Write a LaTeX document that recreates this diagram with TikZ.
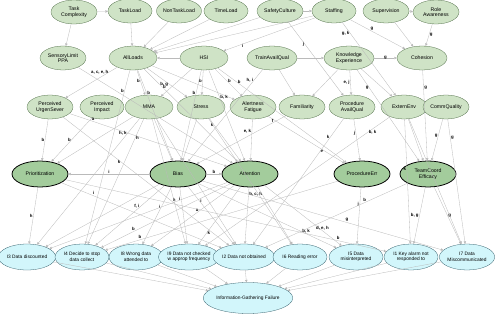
\documentclass[tikz,border=0pt]{standalone}
\usepackage{fontspec}
\setmainfont{Liberation Sans}
\usetikzlibrary{shapes.geometric,arrows.meta}
\definecolor{nodegreen}{HTML}{CFE3C6}
\definecolor{nodeedge}{HTML}{4D6B45}
\definecolor{keygreen}{HTML}{A3CC9C}
\definecolor{errcyan}{HTML}{D2F6FB}
\definecolor{erredge}{HTML}{2E5A66}
\definecolor{linkgray}{HTML}{BABABA}
\begin{document}
\begin{tikzpicture}[x=0.05cm,y=-0.05cm,
    factor/.style={ellipse,draw=nodeedge,fill=nodegreen,thin,minimum width=2.3cm,minimum height=1.2cm,inner sep=0pt,align=center,font=\fontsize{7.4}{8}\selectfont},
    keyfactor/.style={factor,fill=keygreen,draw=black,line width=1.1pt,minimum width=2.8cm,minimum height=1.3cm},
    errmode/.style={factor,fill=errcyan,draw=erredge,minimum width=2.7cm,minimum height=1.3cm,font=\fontsize{6.9}{7.8}\selectfont},
    link/.style={draw=linkgray,line width=0.45pt,-{Triangle[length=3.5pt,width=3.5pt]}},
    lbl/.style={font=\fontsize{6.2}{6.5}\selectfont\bfseries,inner sep=1pt}]
    \useasboundingbox (0,0) rectangle (496,316);
    % performance shaping factors
    \node [factor] (taskcomp) at (74,12) {Task\\Complexity};
    \node [factor,minimum width=2.2cm] (taskload) at (130,11) {TaskLoad};
    \node [factor,minimum width=2.2cm] (nontask) at (179,11) {NonTaskLoad};
    \node [factor,minimum width=2.2cm] (timeload) at (226,11) {TimeLoad};
    \node [factor] (safety) at (280,11) {SafetyCulture};
    \node [factor,minimum width=2.2cm] (staffing) at (334,11) {Staffing};
    \node [factor] (superv) at (386,11) {Supervision};
    \node [factor] (roleaw) at (436,12) {Role\\Awareness};
    \node [factor] (sensory) at (63,58) {SensoryLimit\\PPA};
    \node [factor,minimum width=2.4cm] (allloads) at (133,58) {AllLoads};
    \node [factor,minimum width=2.4cm] (hsi) at (204,58) {HSI};
    \node [factor,minimum width=2.5cm] (trainavail) at (272,58) {TrainAvailQual};
    \node [factor,minimum width=2.5cm] (knowexp) at (349,58) {Knowledge\\Experience};
    \node [factor,minimum width=2.5cm] (cohesion) at (422,58) {Cohesion};
    \node [factor] (percurg) at (50,107) {Perceived\\UrgenSever};
    \node [factor,minimum width=2.2cm] (percimp) at (102,107) {Perceived\\Impact};
    \node [factor,minimum width=2.4cm] (mma) at (149,107) {MMA};
    \node [factor,minimum width=2.4cm] (stress) at (201,107) {Stress};
    \node [factor] (alert) at (253,107) {Alertness\\Fatigue};
    \node [factor] (familiar) at (302,107) {Familiarity};
    \node [factor] (procavail) at (352,107) {Procedure\\AvailQual};
    \node [factor] (externenv) at (404,107) {ExternEnv};
    \node [factor] (commqual) at (446,107) {CommQuality};
    % key factors
    \node [keyfactor] (prior) at (40,174) {Prioritization};
    \node [keyfactor] (bias) at (178,174) {Bias};
    \node [keyfactor] (attention) at (250,174) {Attention};
    \node [keyfactor] (procerr) at (362,174) {ProcedureErr};
    \node [keyfactor] (teamcoord) at (428,174) {TeamCoord\\Efficacy};
    % failure modes
    \node [errmode] (i3) at (27,257) {I3 Data discounted};
    \node [errmode] (i4) at (82,257) {I4 Decide to stop\\data collect};
    \node [errmode] (i8) at (136,257) {I8 Wrong data\\attended to};
    \node [errmode] (i9) at (189,257) {I9 Data not checked\\w approp frequency};
    \node [errmode] (i2) at (244,257) {I2 Data not obtained};
    \node [errmode] (i6) at (300,257) {I6 Reading error};
    \node [errmode] (i5) at (356,257) {I5 Data\\misinterpreted};
    \node [errmode] (i1) at (411,257) {I1 Key alarm not\\responded to};
    \node [errmode] (i7) at (467,257) {I7 Data\\Miscommunicated};
    \node [errmode,minimum width=4.4cm,minimum height=1.55cm] (igf) at (248,298) {Information-Gathering Failure};
    % top rows
    \draw [link] (taskcomp) -- (taskload);
    \draw [link] (taskcomp) -- (sensory);
    \draw [link] (taskload) -- (allloads);
    \draw [link] (nontask) -- (allloads);
    \draw [link] (timeload) -- (allloads);
    \draw [link] (safety) -- (allloads);
    \draw [link] (staffing) -- (allloads);
    \draw [link] (staffing) -- node [lbl,pos=0.78,below left] {i} (hsi);
    \draw [link] (safety) -- (staffing);
    \draw [link] (superv) -- (roleaw);
    \draw [link] (superv) -- (cohesion);
    \draw [link] (roleaw) -- node [lbl,right] {g} (cohesion);
    \draw [link] (staffing) -- node [lbl,pos=0.4,above] {g} (cohesion);
    \draw [link] (staffing) -- node [lbl,pos=0.15,left] {g, k} (externenv);
    \draw [link] (safety) -- node [lbl,pos=0.3,left] {j} (procavail);
    \draw [link] (hsi) -- (allloads);
    \draw [link] (trainavail) -- (knowexp);
    \draw [link] (knowexp) -- node [lbl] {g} (cohesion);
    \draw [link] (trainavail) -- (familiar);
    \draw [link] (trainavail) -- node [lbl,pos=0.12,left] {h, i} (bias);
    \draw [link] (knowexp) -- (familiar);
    \draw [link] (knowexp) -- node [lbl,left] {e, j} (procavail);
    \draw [link] (knowexp) -- node [lbl,pos=0.2,left] {g} (teamcoord);
    \draw [link] (knowexp) -- (externenv);
    \draw [link] (cohesion) -- node [lbl,pos=0.2,right] {g} (teamcoord);
    % loads and interface
    \draw [link] (allloads) -- (percurg);
    \draw [link] (allloads) -- node [lbl,pos=0.12,left] {b} (i4);
    \draw [link] (allloads) -- node [lbl,pos=0.45,left] {b} (mma);
    \draw [link] (allloads) -- node [lbl,pos=0.25,right] {b} (bias);
    \draw [link] (allloads) -- node [lbl,pos=0.55,left] {b, g} (stress);
    \draw [link] (allloads) -- node [lbl,pos=0.22,above] {b} (attention);
    \draw [link] (allloads) -- (alert);
    \draw [link] (hsi) -- (mma);
    \draw [link] (hsi) -- node [lbl,pos=0.45,left] {b} (stress);
    \draw [link] (hsi) -- node [lbl,pos=0.25,left] {b} (bias);
    \draw [link] (hsi) -- node [lbl,pos=0.3,right] {b, k} (attention);
    \draw [link] (hsi) -- node [lbl,pos=0.45,right] {b} (alert);
    \draw [link] (hsi) -- node [lbl,pos=0.15,right] {b} (procerr);
    \draw [link] (sensory) -- node [lbl,pos=0.08,above right] {a, c, e, h} (attention);
    % perceptions and states
    \draw [link] (percurg) -- node [lbl,left] {b} (prior);
    \draw [link] (percimp) -- node [lbl,left] {b} (prior);
    \draw [link] (percurg) -- node [lbl,pos=0.15,above] {a} (attention);
    \draw [link] (percurg) -- node [lbl,pos=0.35,left] {k} (i2);
    \draw [link] (mma) -- node [lbl,pos=0.12,left] {h, k} (i3);
    \draw [link] (mma) -- node [lbl,pos=0.15,right] {h} (i4);
    \draw [link] (mma) -- (prior);
    \draw [link] (mma) -- (bias);
    \draw [link] (stress) -- (bias);
    \draw [link] (stress) -- node [lbl,pos=0.15,left] {k} (attention);
    \draw [link] (alert) -- node [lbl,pos=0.3,left] {e, k} (attention);
    \draw [link] (alert) -- node [lbl,pos=0.7,below] {e} (procerr);
    \draw [link] (familiar) -- node [lbl,pos=0.15,above] {f} (bias);
    \draw [link] (procavail) -- node [lbl,pos=0.35,left] {j} (procerr);
    \draw [link] (procavail) -- node [lbl,pos=0.15,left] {k} (i2);
    \draw [link] (externenv) -- node [lbl,pos=0.12,right] {b, k} (i9);
    \draw [link] (externenv) -- (teamcoord);
    \draw [link] (externenv) -- node [lbl,pos=0.4,left] {k} (i1);
    \draw [link] (commqual) -- node [lbl,pos=0.4,left] {g} (teamcoord);
    \draw [link] (commqual) -- node [lbl,pos=0.15,right] {g} (i7);
    % key factors to failure modes
    \draw [link] (prior) -- node [lbl,left] {h} (i3);
    \draw [link] (bias) -- node [lbl,above] {i} (prior);
    \draw [link] (bias) -- node [lbl,above] {b} (attention);
    \draw [link] (prior) -- node [lbl,pos=0.2,above] {i} (i2);
    \draw [link] (bias) -- node [lbl,pos=0.2,left] {i} (i9);
    \draw [link] (bias) -- node [lbl,pos=0.25,right] {i} (i2);
    \draw [link] (bias) -- node [lbl,pos=0.35,left] {i} (i8);
    \draw [link] (bias) -- node [lbl,pos=0.35,left] {f, i} (i4);
    \draw [link] (bias) -- (i3);
    \draw [link] (attention) -- node [lbl,pos=0.12,right] {b, c, h} (i2);
    \draw [link] (attention) -- node [lbl,pos=0.3,above] {h} (i3);
    \draw [link] (attention) -- node [lbl,pos=0.45,above] {a} (i8);
    \draw [link] (attention) -- node [lbl,pos=0.75,above] {b} (i4);
    \draw [link] (attention) -- node [lbl,pos=0.75,above] {d, e, h} (i5);
    \draw [link] (attention) -- (i6);
    \draw [link] (attention) -- node [lbl,pos=0.8,right] {k} (i9);
    \draw [link] (bias) -- node [lbl,pos=0.78,above] {b, k} (i5);
    \draw [link] (bias) -- node [lbl,pos=0.6,above] {g} (i7);
    \draw [link] (procerr) -- node [lbl,pos=0.3,left] {j} (i5);
    \draw [link] (procerr) -- node [lbl,pos=0.85,above] {b} (i4);
    \draw [link] (teamcoord) -- node [lbl,pos=0.3,above] {b} (i2);
    \draw [link] (teamcoord) -- node [lbl,left] {b, g} (i1);
    \draw [link] (teamcoord) -- node [lbl,right] {g} (i7);
    \draw [link] (prior) -- node [lbl,pos=0.85,above] {b} (i1);
    \draw [link] (stress) -- (i6);
    \draw [link] (mma) -- (i9);
    \draw [link] (mma) -- (i2);
    \draw [link] (externenv) -- (i7);
    % failure modes to the overall failure
    \foreach \mode in {i3,i4,i8,i9,i2,i6,i5,i1,i7}
        \draw [link] (\mode) -- (igf);
\end{tikzpicture}
\end{document}
